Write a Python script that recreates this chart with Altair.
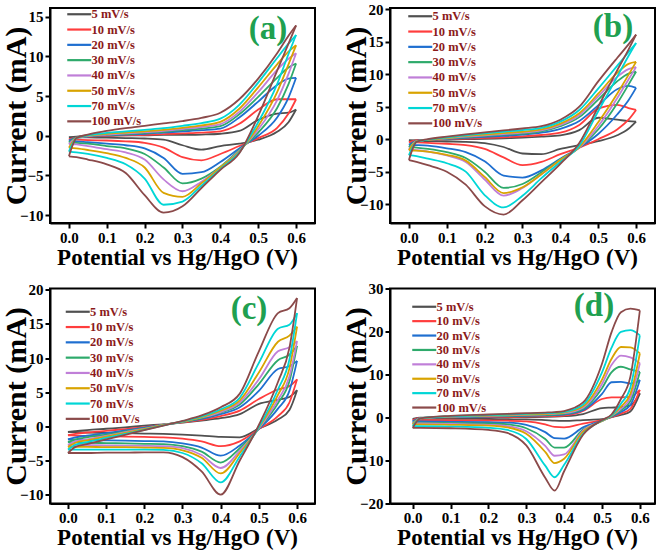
import altair as alt
import pandas as pd

RATES = ["5 mV/s", "10 mV/s", "20 mV/s", "30 mV/s", "40 mV/s", "50 mV/s", "70 mV/s", "100 mV/s"]
COLORS = ["#505050", "#FF3D3D", "#1F6FD0", "#2EAA6B", "#C07FD8", "#D9A300", "#00D6D6", "#8B4A4A"]
XTICKS = [0.0, 0.1, 0.2, 0.3, 0.4, 0.5, 0.6]

# Potential grid (V) for panels a, b, c
X_ABC = [0.0, 0.02, 0.05, 0.1, 0.15, 0.2, 0.25, 0.3, 0.35, 0.4, 0.45, 0.5, 0.55, 0.58, 0.6]
# Potential grid (V) for panel d
X_D = [0.0, 0.02, 0.1, 0.2, 0.25, 0.3, 0.35, 0.375, 0.4, 0.45, 0.5, 0.525, 0.55, 0.575, 0.6]

# Panel (a): anodic (forward) and cathodic (reverse) branches, mA, one row per scan rate
A_UP = [
    [-0.2, -0.1, 0.0, 0.0, 0.05, 0.05, 0.1, 0.1, 0.15, 0.25, 0.6, 2.0, 2.8, 2.9, 3.3],
    [-0.45, -0.2, -0.1, 0.0, 0.05, 0.1, 0.2, 0.3, 0.4, 0.55, 1.5, 3.3, 4.6, 4.6, 4.6],
    [-0.6, -0.25, -0.1, 0.05, 0.15, 0.25, 0.4, 0.55, 0.7, 0.9, 2.3, 4.3, 6.4, 7.2, 7.3],
    [-0.85, -0.25, -0.05, 0.1, 0.2, 0.35, 0.5, 0.7, 0.9, 1.2, 2.7, 4.9, 7.3, 8.6, 9.1],
    [-1.05, -0.3, -0.05, 0.15, 0.3, 0.45, 0.6, 0.85, 1.1, 1.45, 3.0, 5.5, 8.3, 9.7, 10.4],
    [-1.5, -0.3, 0.0, 0.25, 0.4, 0.55, 0.75, 1.0, 1.3, 1.75, 3.4, 6.1, 9.0, 10.6, 11.4],
    [-2.0, -0.3, 0.05, 0.35, 0.55, 0.75, 0.95, 1.25, 1.6, 2.15, 3.9, 6.7, 9.8, 11.6, 12.7],
    [-2.6, -0.3, 0.15, 0.6, 0.95, 1.25, 1.55, 1.85, 2.25, 2.9, 4.6, 7.2, 10.4, 12.6, 13.9],
]
A_DN = [
    [-0.2, -0.2, -0.2, -0.25, -0.3, -0.35, -0.5, -1.2, -1.75, -1.3, -1.0, -0.5, 0.5, 1.7, 3.3],
    [-0.45, -0.5, -0.55, -0.6, -0.7, -0.9, -1.5, -2.7, -3.1, -2.3, -1.3, -0.3, 1.0, 2.8, 4.6],
    [-0.6, -0.7, -0.8, -1.0, -1.2, -1.6, -2.8, -4.8, -4.6, -3.3, -1.6, 0.0, 2.3, 4.8, 7.3],
    [-0.85, -0.9, -1.0, -1.3, -1.6, -2.3, -4.0, -6.0, -5.4, -3.9, -1.8, 0.4, 3.5, 6.5, 9.1],
    [-1.05, -1.1, -1.3, -1.7, -2.1, -3.0, -5.5, -7.0, -5.8, -4.0, -1.9, 0.8, 4.5, 7.8, 10.4],
    [-1.5, -1.6, -1.8, -2.2, -2.8, -4.0, -7.2, -7.7, -6.0, -4.0, -2.0, 1.2, 5.5, 9.0, 11.4],
    [-2.0, -2.1, -2.3, -2.8, -3.6, -5.4, -8.7, -8.3, -6.3, -4.2, -2.1, 1.7, 6.5, 10.3, 12.7],
    [-2.6, -2.7, -3.0, -3.6, -4.7, -7.5, -9.7, -8.9, -6.6, -4.3, -2.2, 2.5, 8.2, 11.6, 13.9],
]

# Panel (b)
B_UP = [
    [-0.2, -0.15, -0.1, -0.05, 0.0, 0.05, 0.15, 0.25, 0.4, 0.6, 1.4, 3.3, 3.0, 2.8, 2.7],
    [-0.45, -0.2, -0.1, 0.0, 0.1, 0.2, 0.3, 0.45, 0.65, 1.0, 2.2, 4.7, 5.3, 4.8, 4.5],
    [-0.85, -0.25, -0.1, 0.05, 0.2, 0.35, 0.5, 0.7, 1.0, 1.6, 2.8, 5.2, 7.7, 8.2, 7.9],
    [-1.2, -0.3, -0.1, 0.1, 0.3, 0.5, 0.7, 0.85, 1.2, 2.0, 3.4, 6.1, 8.9, 10.1, 10.4],
    [-1.6, -0.3, -0.1, 0.15, 0.4, 0.6, 0.8, 1.0, 1.35, 2.2, 3.7, 6.6, 9.6, 10.8, 11.1],
    [-1.7, -0.35, -0.1, 0.2, 0.5, 0.7, 0.95, 1.15, 1.5, 2.4, 4.0, 7.0, 10.2, 11.6, 11.9],
    [-2.45, -0.4, -0.05, 0.3, 0.6, 0.9, 1.15, 1.4, 1.75, 2.7, 4.5, 7.8, 11.3, 13.4, 14.8],
    [-3.2, -0.4, 0.0, 0.4, 0.75, 1.05, 1.35, 1.65, 2.0, 3.0, 5.0, 8.9, 12.5, 14.6, 16.1],
]
B_DN = [
    [-0.2, -0.25, -0.3, -0.35, -0.4, -0.6, -1.2, -2.2, -2.3, -1.5, -0.9, -0.3, 0.6, 1.6, 2.7],
    [-0.45, -0.5, -0.55, -0.7, -0.9, -1.5, -2.8, -4.0, -3.5, -2.3, -1.3, 0.0, 1.5, 3.0, 4.5],
    [-0.85, -0.9, -1.0, -1.4, -2.0, -3.4, -5.6, -5.9, -4.8, -3.0, -1.3, 0.8, 3.8, 6.0, 7.9],
    [-1.2, -1.3, -1.5, -2.0, -2.9, -5.0, -7.5, -6.9, -5.1, -3.1, -1.3, 1.5, 5.5, 8.4, 10.4],
    [-1.6, -1.7, -1.9, -2.5, -3.5, -6.2, -8.7, -7.5, -5.4, -3.2, -1.3, 2.0, 6.3, 9.2, 11.1],
    [-1.7, -1.75, -1.9, -2.4, -3.3, -5.8, -8.3, -7.4, -5.4, -3.2, -1.2, 2.6, 7.0, 9.9, 11.9],
    [-2.45, -2.6, -3.0, -3.7, -5.0, -8.6, -10.5, -8.7, -6.0, -3.5, -1.0, 4.3, 9.6, 12.8, 14.8],
    [-3.2, -3.5, -4.0, -5.0, -7.0, -10.3, -11.6, -9.4, -6.6, -3.8, -0.6, 5.0, 10.6, 13.8, 16.1],
]

# Panel (c)
C_UP = [
    [-0.8, -0.7, -0.55, -0.35, -0.15, 0.1, 0.3, 0.55, 0.85, 1.2, 1.8, 3.3, 3.9, 4.3, 5.3],
    [-1.3, -1.1, -0.9, -0.65, -0.4, -0.1, 0.25, 0.6, 0.95, 1.5, 2.3, 4.0, 5.4, 5.9, 6.9],
    [-1.9, -1.6, -1.35, -1.0, -0.6, -0.2, 0.25, 0.65, 1.1, 1.8, 2.8, 5.2, 8.4, 8.8, 9.6],
    [-2.3, -1.9, -1.6, -1.2, -0.75, -0.3, 0.2, 0.65, 1.2, 2.0, 3.2, 6.2, 9.7, 10.5, 11.8],
    [-2.7, -2.2, -1.9, -1.4, -0.85, -0.35, 0.2, 0.7, 1.3, 2.1, 3.5, 6.9, 11.0, 11.6, 12.5],
    [-3.0, -2.4, -2.05, -1.5, -0.95, -0.4, 0.2, 0.7, 1.35, 2.3, 3.8, 7.9, 12.4, 13.3, 14.6],
    [-3.4, -2.7, -2.3, -1.7, -1.1, -0.5, 0.15, 0.75, 1.45, 2.5, 4.2, 9.3, 14.3, 14.9, 16.6],
    [-3.9, -3.0, -2.6, -1.9, -1.25, -0.55, 0.1, 0.8, 1.6, 2.8, 4.8, 11.0, 16.6, 17.3, 18.8],
]
C_DN = [
    [-0.8, -0.85, -0.9, -0.95, -1.0, -1.05, -1.1, -1.2, -1.35, -1.55, -1.6, -0.3, 1.0, 2.4, 5.3],
    [-1.3, -1.35, -1.4, -1.45, -1.5, -1.55, -1.6, -1.8, -2.2, -2.9, -2.2, -0.4, 1.5, 3.5, 6.9],
    [-1.9, -1.95, -2.0, -2.05, -2.1, -2.15, -2.2, -2.5, -3.1, -4.3, -2.8, -0.4, 2.6, 5.2, 9.6],
    [-2.3, -2.35, -2.4, -2.45, -2.5, -2.55, -2.6, -2.9, -3.7, -5.3, -3.2, -0.3, 3.4, 6.6, 11.8],
    [-2.7, -2.72, -2.75, -2.8, -2.82, -2.85, -2.9, -3.2, -4.2, -6.1, -3.6, -0.3, 3.9, 7.3, 12.5],
    [-3.0, -3.0, -3.0, -3.05, -3.05, -3.1, -3.15, -3.5, -4.6, -6.9, -3.9, -0.2, 4.6, 8.5, 14.6],
    [-3.4, -3.4, -3.4, -3.4, -3.4, -3.4, -3.45, -3.9, -5.4, -8.2, -4.4, -0.1, 5.4, 9.8, 16.6],
    [-3.9, -3.9, -3.9, -3.85, -3.85, -3.8, -3.8, -4.5, -6.6, -10.0, -5.0, 0.2, 6.5, 11.5, 18.8],
]

# Panel (d)
D_UP = [
    [-0.3, -0.05, 0.0, 0.05, 0.1, 0.1, 0.15, 0.2, 0.3, 0.8, 2.2, 2.3, 2.4, 2.8, 5.6],
    [-0.6, -0.1, 0.05, 0.1, 0.15, 0.2, 0.3, 0.35, 0.45, 1.5, 4.3, 4.7, 4.7, 4.8, 6.4],
    [-0.9, -0.15, 0.1, 0.2, 0.3, 0.4, 0.5, 0.55, 0.7, 1.7, 5.5, 8.2, 8.3, 7.9, 8.7],
    [-1.2, -0.2, 0.15, 0.3, 0.4, 0.5, 0.6, 0.7, 0.85, 2.0, 6.8, 10.5, 11.8, 11.2, 10.6],
    [-1.4, -0.2, 0.2, 0.4, 0.5, 0.6, 0.75, 0.85, 1.0, 2.3, 7.8, 12.2, 14.4, 14.0, 12.6],
    [-1.6, -0.2, 0.25, 0.45, 0.6, 0.7, 0.85, 0.95, 1.15, 2.6, 8.8, 13.6, 16.4, 16.3, 14.9],
    [-2.0, -0.2, 0.3, 0.55, 0.7, 0.85, 1.0, 1.1, 1.3, 3.0, 10.5, 16.2, 19.9, 20.3, 19.1],
    [-2.4, -0.2, 0.4, 0.7, 0.85, 1.0, 1.15, 1.25, 1.5, 3.5, 12.5, 19.8, 24.5, 25.3, 24.9],
]
D_DN = [
    [-0.3, -0.3, -0.3, -0.35, -0.4, -0.45, -0.6, -0.75, -0.8, -0.6, -0.4, 0.1, 0.6, 1.4, 5.6],
    [-0.6, -0.6, -0.65, -0.7, -0.75, -0.9, -1.6, -2.2, -2.3, -1.4, -0.6, 0.1, 0.9, 2.0, 6.4],
    [-0.9, -0.9, -1.0, -1.1, -1.2, -1.7, -3.4, -4.8, -4.9, -2.3, -0.7, 0.2, 1.3, 2.9, 8.7],
    [-1.2, -1.2, -1.3, -1.4, -1.6, -2.5, -5.0, -7.0, -7.0, -2.8, -0.8, 0.3, 1.7, 3.8, 10.6],
    [-1.4, -1.4, -1.5, -1.7, -2.0, -3.2, -6.6, -8.9, -8.6, -3.0, -0.8, 0.4, 2.0, 4.6, 12.6],
    [-1.6, -1.6, -1.7, -1.9, -2.3, -3.8, -8.0, -10.6, -9.6, -3.3, -0.8, 0.4, 2.5, 5.5, 14.9],
    [-2.0, -2.0, -2.1, -2.4, -2.9, -5.0, -11.2, -13.9, -11.0, -3.8, -0.7, 0.5, 3.2, 7.0, 19.1],
    [-2.4, -2.4, -2.5, -2.9, -3.6, -6.5, -14.0, -17.0, -12.5, -4.0, -0.6, 0.7, 4.3, 9.5, 24.9],
]

FONT = "Liberation Serif"
W, H = 265, 215


def panel(X, UP, DN, xdom, ydom, yvals, label, lab_x, lab_y, leg_x, leg_y, row_pad):
    rows = []
    for i, rate in enumerate(RATES):
        for j, xv in enumerate(X):
            rows.append({"rate": rate, "branch": "fwd", "x": xv, "y": UP[i][j]})
            rows.append({"rate": rate, "branch": "rev", "x": xv, "y": DN[i][j]})
    df = pd.DataFrame(rows)
    lines = alt.Chart(df).mark_line(interpolate="monotone", strokeWidth=1.8, clip=True).encode(
        x=alt.X("x:Q", scale=alt.Scale(domain=xdom, nice=False, zero=False),
                axis=alt.Axis(values=XTICKS, format=".1f", title="Potential vs Hg/HgO (V)")),
        y=alt.Y("y:Q", scale=alt.Scale(domain=ydom, nice=False, zero=False),
                axis=alt.Axis(values=yvals, format="d", title="Current (mA)")),
        color=alt.Color("rate:N", sort=RATES,
                        scale=alt.Scale(domain=RATES, range=COLORS),
                        legend=alt.Legend(title=None, orient="none", legendX=leg_x, legendY=leg_y,
                                          rowPadding=row_pad)),
        detail="branch:N",
    )
    txt = alt.Chart(pd.DataFrame({"t": [label]})).mark_text(
        font=FONT, fontSize=33, fontWeight="bold", color="#20A050", align="center", baseline="middle"
    ).encode(x=alt.value(lab_x), y=alt.value(lab_y), text="t:N")
    return alt.layer(lines, txt).properties(width=W, height=H)


pa = panel(X_ABC, A_UP, A_DN, [-0.05, 0.65], [-11.0, 16.1], [-10, -5, 0, 5, 10, 15], "(a)", 218, 21, 23, 0, 2.3)
pb = panel(X_ABC, B_UP, B_DN, [-0.05, 0.65], [-12.9, 20.2], [-10, -5, 0, 5, 10, 15, 20], "(b)", 223, 19, 24, 2, 2.3)
pc = panel(X_ABC, C_UP, C_DN, [-0.047, 0.647], [-11.3, 20.2], [-10, -5, 0, 5, 10, 15, 20], "(c)", 199, 20, 21.5, 17, 2.3)
pd_ = panel(X_D, D_UP, D_DN, [-0.06, 0.64], [-20.0, 30.0], [-20, -10, 0, 10, 20, 30], "(d)", 204, 17, 28, 12, 1.4)

chart = alt.concat(pa, pb, pc, pd_, columns=2, spacing={"row": 10.5, "column": 24}).resolve_scale(
    color="independent", x="independent", y="independent"
).resolve_legend(color="independent").properties(
    padding={"left": 0, "top": 1, "right": 0, "bottom": 0}
).configure_view(
    stroke="black", strokeWidth=2
).configure_axis(
    labelFont=FONT, labelFontSize=15, labelFontWeight="bold", labelColor="black",
    tickColor="black", tickSize=5, tickWidth=2, domainColor="black", domainWidth=2,
    grid=False, titleFont=FONT, titleFontWeight="bold", titleColor="black", labelPadding=2,
).configure_axisX(
    titleFontSize=23, titlePadding=1, titleX=127
).configure_axisY(
    titleFontSize=30, titleX=-19
).configure_legend(
    symbolType="M-3,0H3", symbolSize=64, symbolStrokeWidth=2.2,
    labelFont=FONT, labelFontSize=12.5, labelFontWeight="bold", labelColor="#8B1A1A",
    labelOffset=6, padding=0,
)

chart.save("out.html", embed_options={"renderer": "svg", "actions": False})
